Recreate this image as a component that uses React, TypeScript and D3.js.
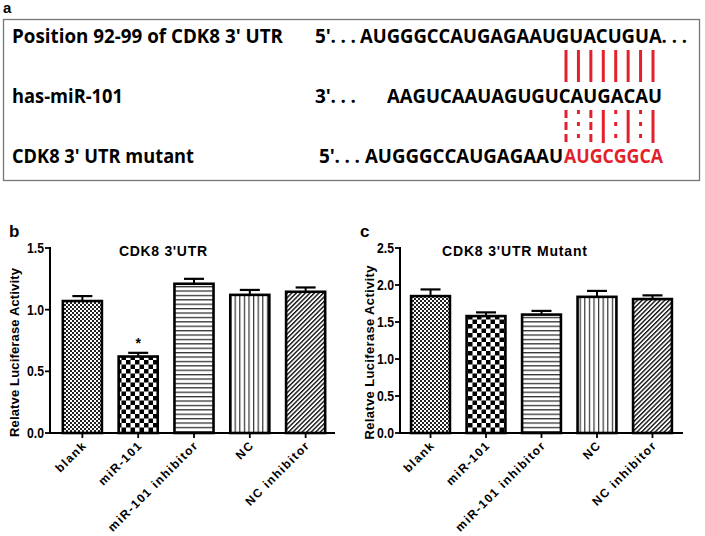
import React from 'react';
import * as d3 from 'd3';

// ---------- data ----------
const categories = ['blank', 'miR-101', 'miR-101 inhibitor', 'NC', 'NC inhibitor'];
const utrValues = [1.07, 0.62, 1.21, 1.12, 1.145];
const utrErrors = [0.04, 0.03, 0.04, 0.04, 0.035];
const mutValues = [1.85, 1.58, 1.6, 1.84, 1.81];
const mutErrors = [0.09, 0.05, 0.05, 0.08, 0.05];
const utrTicks = [0, 0.5, 1.0, 1.5];
const mutTicks = [0, 0.5, 1.0, 1.5, 2.0, 2.5];
const barPatterns = ['pFine', 'pChecker', 'pHLines', 'pVLines', 'pDiag'];

const rowLabels = ["Position 92-99 of CDK8 3' UTR", 'has-miR-101', "CDK8 3' UTR mutant"];
const rowPrefixes = ["5'. . .", "3'. . .", "5'. . ."];
const wildSeq = 'AUGGGCCAUGAGAAUGUACUGUA. . .';
const mirSeq = 'AAGUCAAUAGUGUCAUGACAU';
const mutSeqBlack = 'AUGGGCCAUGAGAAU';
const mutSeqRed = 'AUGCGGCA';
const upperPairs = ['solid', 'solid', 'solid', 'solid', 'solid', 'solid', 'solid', 'solid'];
const lowerPairs = ['dash', 'dot', 'dash', 'solid', 'dot', 'solid', 'dot', 'solid'];

const RED = '#e3202b';
const SEQFONT = "'Open Sans', 'Noto Sans', sans-serif";
const CHFONT = "'Liberation Sans', Arial, sans-serif";

const dashFor: Record<string, string | undefined> = {
  solid: undefined,
  dash: '8,4',
  dot: '4,8',
};

function PanelA() {
  const pairX = d3.scaleLinear().domain([0, 7]).range([566, 653]);
  const rowY = [43, 103, 163];
  return (
    <g>
      <text x={3} y={13} fontFamily={CHFONT} fontWeight="bold" fontSize={15}>a</text>
      <rect x={3.5} y={19.5} width={696} height={161} fill="none" stroke="#777" strokeWidth={1.3} />
      {rowLabels.map((l, i) => (
        <text key={l} x={12} y={rowY[i]} fontFamily={SEQFONT} fontWeight="bold" fontSize={19}
          textLength={[271, 111, 182][i]} lengthAdjust="spacingAndGlyphs">{l}</text>
      ))}
      {rowPrefixes.map((p, i) => (
        <text key={i} x={[315, 315, 319][i]} y={rowY[i]} fontFamily={SEQFONT} fontWeight="bold" fontSize={19}
          textLength={[41, 41, 41][i]} lengthAdjust="spacing">{p}</text>
      ))}
      <text x={360} y={rowY[0]} fontFamily={SEQFONT} fontWeight="bold" fontSize={19}
        textLength={327} lengthAdjust="spacingAndGlyphs">{wildSeq}</text>
      <text x={387} y={rowY[1]} fontFamily={SEQFONT} fontWeight="bold" fontSize={19}
        textLength={275} lengthAdjust="spacingAndGlyphs">{mirSeq}</text>
      <text x={365} y={rowY[2]} fontFamily={SEQFONT} fontWeight="bold" fontSize={19}
        textLength={198} lengthAdjust="spacingAndGlyphs">{mutSeqBlack}</text>
      <text x={564} y={rowY[2]} fontFamily={SEQFONT} fontWeight="bold" fontSize={19} fill={RED}
        textLength={99} lengthAdjust="spacingAndGlyphs">{mutSeqRed}</text>
      {upperPairs.map((s, i) => (
        <line key={'u' + i} x1={pairX(i)} x2={pairX(i)} y1={50} y2={82} stroke={RED} strokeWidth={3}
          strokeDasharray={dashFor[s]} />
      ))}
      {lowerPairs.map((s, i) => (
        <line key={'l' + i} x1={pairX(i)} x2={pairX(i)} y1={110} y2={143} stroke={RED} strokeWidth={3}
          strokeDasharray={dashFor[s]} />
      ))}
    </g>
  );
}

interface PanelProps {
  values: number[];
  errors: number[];
  ticks: number[];
  yMax: number;
  axisX: number;
  axisEnd: number;
  bandRange: [number, number];
  padOuter: number;
  title: string;
  titleX: number;
  titleLen: number;
  letter: string;
  letterX: number;
  ylabelX: number;
  ylabelLen: number;
  star?: number;
}

function BarPanel(p: PanelProps) {
  const y0 = 433;
  const yTop = 248;
  const y = d3.scaleLinear().domain([0, p.yMax]).range([y0, yTop]);
  const x = d3.scaleBand<string>().domain(categories).range(p.bandRange)
    .paddingInner(0.3).paddingOuter(p.padOuter);
  const bw = x.bandwidth();
  const fmt = d3.format('.1f');
  return (
    <g>
      <text x={p.letterX} y={237} fontFamily={CHFONT} fontWeight="bold" fontSize={17}>{p.letter}</text>
      <text x={p.titleX} y={256} fontFamily={CHFONT} fontWeight="bold" fontSize={14}
        textLength={p.titleLen} lengthAdjust="spacing">{p.title}</text>
      <text transform={`translate(${p.ylabelX},${(y0 + yTop) / 2 + 12}) rotate(-90)`} textAnchor="middle"
        fontFamily={CHFONT} fontWeight="bold" fontSize={13} textLength={p.ylabelLen} lengthAdjust="spacing">
        Relatve Luciferase Activity
      </text>
      {categories.map((c, i) => {
        const bx = x(c)!;
        const v = p.values[i];
        const e = p.errors[i];
        const cx = bx + bw / 2;
        return (
          <g key={c}>
            <line x1={cx} x2={cx} y1={y(v)} y2={y(v + e)} stroke="#000" strokeWidth={2} />
            <line x1={cx - 10} x2={cx + 10} y1={y(v + e)} y2={y(v + e)} stroke="#000" strokeWidth={2.2} />
            <rect x={bx} y={y(v)} width={bw} height={y0 - y(v)} fill={`url(#${barPatterns[i]})`}
              stroke="#000" strokeWidth={2.6} />
          </g>
        );
      })}
      {p.star !== undefined && (
        <text x={x(categories[p.star])! + bw / 2} y={y(p.values[p.star] + p.errors[p.star]) - 5}
          textAnchor="middle" fontFamily={CHFONT} fontWeight="bold" fontSize={14}>*</text>
      )}
      <line x1={p.axisX} x2={p.axisX} y1={yTop - 1} y2={y0 + 1} stroke="#000" strokeWidth={2} />
      <line x1={p.axisX - 1} x2={p.axisEnd} y1={y0} y2={y0} stroke="#000" strokeWidth={2} />
      {p.ticks.map((t) => (
        <g key={t}>
          <line x1={p.axisX - 5} x2={p.axisX} y1={y(t)} y2={y(t)} stroke="#000" strokeWidth={1.8} />
          <text x={p.axisX - 6} y={y(t) + 5} textAnchor="end" fontFamily={CHFONT} fontWeight="bold"
            fontSize={14} textLength={17} lengthAdjust="spacingAndGlyphs">{fmt(t)}</text>
        </g>
      ))}
      {categories.map((c) => {
        const cx = x(c)! + bw / 2;
        return (
          <g key={'t' + c}>
            <line x1={cx} x2={cx} y1={y0} y2={y0 + 5} stroke="#000" strokeWidth={1.8} />
            <text transform={`translate(${cx + 5},${y0 + 13}) rotate(-45)`} textAnchor="end"
              fontFamily={CHFONT} fontWeight="bold" fontSize={12} letterSpacing={1.4}>{c}</text>
          </g>
        );
      })}
    </g>
  );
}

export default function App() {
  return (
    <svg width={705} height={536} viewBox="0 0 705 536"
      style={{ position: 'absolute', left: 0, top: 0, background: '#fff' }}>
      <defs>
        <pattern id="pFine" patternUnits="userSpaceOnUse" width={4} height={4}>
          <rect width={4} height={4} fill="#fff" />
          <rect width={2} height={2} fill="#222" />
          <rect x={2} y={2} width={2} height={2} fill="#222" />
        </pattern>
        <pattern id="pChecker" patternUnits="userSpaceOnUse" width={9} height={9}>
          <rect width={9} height={9} fill="#fff" />
          <rect width={4.5} height={4.5} fill="#000" />
          <rect x={4.5} y={4.5} width={4.5} height={4.5} fill="#000" />
        </pattern>
        <pattern id="pHLines" patternUnits="userSpaceOnUse" width={4.4} height={4.4}>
          <rect width={4.4} height={4.4} fill="#fff" />
          <rect y={0} width={4.4} height={1.3} fill="#333" />
        </pattern>
        <pattern id="pVLines" patternUnits="userSpaceOnUse" width={4.6} height={4.6}>
          <rect width={4.6} height={4.6} fill="#fff" />
          <rect x={0} width={1.2} height={4.6} fill="#333" />
        </pattern>
        <pattern id="pDiag" patternUnits="userSpaceOnUse" width={3.2} height={3.2}
          patternTransform="rotate(45)">
          <rect width={3.2} height={3.2} fill="#fff" />
          <rect x={0} width={1.4} height={3.2} fill="#111" />
        </pattern>
      </defs>
      <rect width={705} height={536} fill="#fff" />
      <PanelA />
      <BarPanel values={utrValues} errors={utrErrors} ticks={utrTicks} yMax={1.5}
        axisX={50} axisEnd={335} bandRange={[50, 338]} padOuter={0.23}
        title="CDK8 3'UTR" titleX={119} titleLen={88} letter="b" letterX={9}
        ylabelX={19} ylabelLen={169} star={1} />
      <BarPanel values={mutValues} errors={mutErrors} ticks={mutTicks} yMax={2.5}
        axisX={400} axisEnd={683} bandRange={[400, 683]} padOuter={0.2}
        title="CDK8 3'UTR Mutant" titleX={442} titleLen={145} letter="c" letterX={360}
        ylabelX={374} ylabelLen={174} />
    </svg>
  );
}
